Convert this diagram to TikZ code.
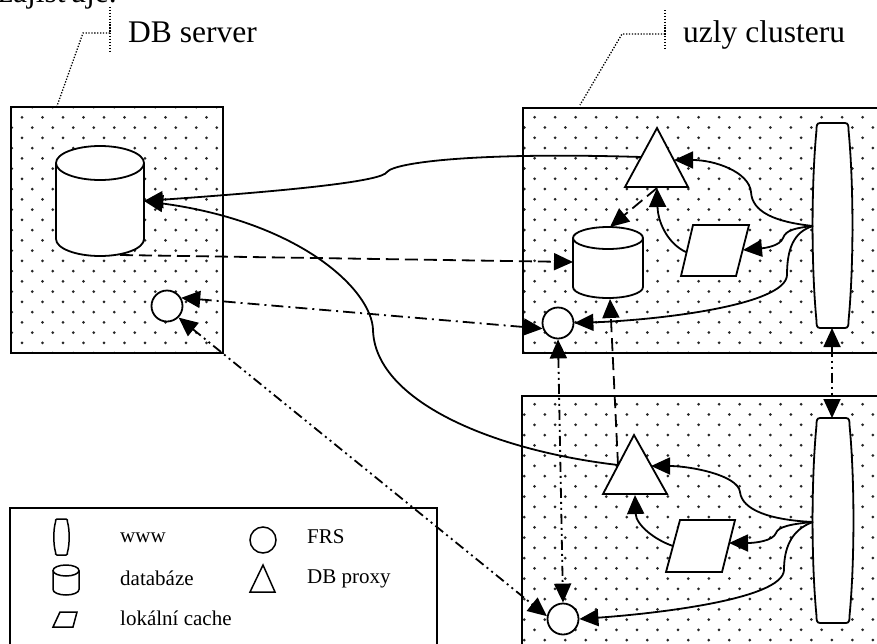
\documentclass[tikz,border=0pt]{standalone}
\usepackage{fontspec}
\setmainfont{Liberation Serif}
\usetikzlibrary{arrows.meta}
\newcommand\wwwshape[6][]{% l t r b k
  \filldraw[shp,#1] ({#2+2*#6},#3) -- ({#4-2*#6},#3)
   .. controls ({#4-#6},#3) and ({#4-#6},{#3+#6}) .. ({#4-#6},{#3+2*#6})
   .. controls ({#4+#6/2},{#3+0.3*(#5-#3)}) and ({#4+#6/2},{#3+0.7*(#5-#3)}) .. ({#4-#6},{#5-2*#6})
   .. controls ({#4-#6},{#5-#6}) and ({#4-#6},#5) .. ({#4-2*#6},#5)
   -- ({#2+2*#6},#5)
   .. controls ({#2+#6},#5) and ({#2+#6},{#5-#6}) .. ({#2+#6},{#5-2*#6})
   .. controls ({#2-#6/2},{#3+0.7*(#5-#3)}) and ({#2-#6/2},{#3+0.3*(#5-#3)}) .. ({#2+#6},{#3+2*#6})
   .. controls ({#2+#6},{#3+#6}) and ({#2+#6},#3) .. cycle;
}
\newcommand\dbcyl[6][]{% cx tc bc rx ry
  \fill[white] ({#2-#5},#3) rectangle ({#2+#5},#4);
  \fill[white] (#2,#4) ellipse [x radius=#5, y radius=#6];
  \filldraw[shp,#1] (#2,#3) ellipse [x radius=#5, y radius=#6];
  \draw[shp,fill=none,#1] ({#2-#5},#3) -- ({#2-#5},#4)
    .. controls ({#2-#5},{#4+0.5523*#6}) and ({#2-0.5523*#5},{#4+#6}) .. (#2,{#4+#6})
    .. controls ({#2+0.5523*#5},{#4+#6}) and ({#2+#5},{#4+0.5523*#6}) .. ({#2+#5},#4)
    -- ({#2+#5},#3);
}
\begin{document}
\begin{tikzpicture}[x=1pt,y=-1pt,
  box/.style={draw=black,line width=2pt},
  shp/.style={draw=black,fill=white,line width=1.8pt},
  conn/.style={line width=1.8pt},
  tip/.style={-{Triangle[length=19pt,width=17pt]}},
  tips/.style={{Triangle[length=19pt,width=17pt]}-{Triangle[length=19pt,width=17pt]}},
  ldash/.style={dash pattern=on 13pt off 6pt},
  dashdot/.style={dash pattern=on 12pt off 5pt on 2pt off 5pt},
  dashdotdot/.style={dash pattern=on 10pt off 4pt on 2pt off 4pt on 2pt off 4pt},
  callout/.style={line width=1.3pt,dash pattern=on 1.3pt off 1.6pt},
  frs/.style={circle,draw=black,fill=white,line width=1.8pt,minimum size=31pt,inner sep=0pt},
  lbl/.style={font=\fontsize{31.5}{36}\selectfont,inner sep=0pt,anchor=base west},
  leg/.style={font=\fontsize{21}{25}\selectfont,inner sep=0pt,anchor=base west},
  dotc/.style={fill=black!85}
]
\useasboundingbox (0,0) rectangle (877,643);
\fill[white] (0,0) rectangle (877,643);

% dotted fill of the three boxes
\begin{scope}
  \clip (11,107) rectangle (223,353) (523,108) rectangle (890,353) (522,396) rectangle (890,650);
  \foreach \j in {10,...,62} {
    \pgfmathsetmacro\off{mod(\j+1,2)*10.25}
    \foreach \i in {0,...,43} {
      \fill[dotc] ({1.5+20.5*\i+\off},{4.5+10.25*\j}) circle (1.5pt);
    }
  }
\end{scope}

% boxes
\draw[box] (11,107) rectangle (223,353);
\draw[box] (523,108) rectangle (890,353);
\draw[box] (522,396) rectangle (890,660);
\draw[box,fill=white] (10,508) rectangle (437,660);

% labels and callouts
\node[lbl] (frag) at (-1,2) {zajišťuje.};
\node[lbl] (dblabel) at (128,42) {DB server};
\node[lbl] (cllabel) at (683,42) {uzly clusteru};
\coordinate (dbv1) at (110,7); \coordinate (dbv2) at (110,52);
\coordinate (dbk) at (110,33); \coordinate (dbh) at (83,33); \coordinate (dbe) at (57,106);
\draw[callout] (dbv1) -- (dbv2);
\draw[callout] (dbk) -- (dbh) -- (dbe);
\coordinate (clv1) at (665,10); \coordinate (clv2) at (665,49);
\coordinate (clk) at (665,34); \coordinate (clh) at (622,34); \coordinate (cle) at (580,105);
\draw[callout] (clv1) -- (clv2);
\draw[callout] (clk) -- (clh) -- (cle);

% DB server contents
\dbcyl{100}{163}{239}{44}{17}
\coordinate (dbcylE) at (144,201);
\coordinate (dbcylB) at (120,255);
\node[frs] (frsDB) at (167,306) {};

% top cluster node
\draw[shp] (657,128) -- (625,187) -- (688,187) -- cycle;
\coordinate (t1L) at (641,157);
\coordinate (t1R) at (674,160);
\coordinate (t1B) at (657,188);
\dbcyl{608}{238}{287}{35}{11}
\coordinate (c1T) at (610,227);
\coordinate (c1W) at (573,262);
\coordinate (c1S) at (610,299);
\draw[shp] (693,225) -- (749,225) -- (736,276) -- (681,276) -- cycle;
\coordinate (p1R) at (743,250);
\coordinate (p1L) at (686,252);
\wwwshape{813}{123}{852}{328}{3.5}
\coordinate (w1L) at (813,226);
\coordinate (w1S) at (832,328);
\node[frs] (frs1) at (558,323) {};

% bottom cluster node
\draw[shp] (634,435) -- (603,494) -- (667,494) -- cycle;
\coordinate (t2L) at (618,465);
\coordinate (t2R) at (651,466);
\coordinate (t2B) at (635,495);
\draw[shp] (680,520) -- (735,520) -- (722,572) -- (666,572) -- cycle;
\coordinate (p2R) at (729,543);
\coordinate (p2L) at (673,546);
\wwwshape{813}{418}{853}{623}{3.5}
\coordinate (w2L) at (813,522);
\coordinate (w2N) at (832,418);
\node[frs] (frs2) at (563,619) {};

% connectors: top cluster
\draw[conn,tip] (w1L) .. controls (775,222) and (752,212) .. (751,192) .. controls (749,172) and (715,160) .. (t1R);
\draw[conn,tip] (w1L) .. controls (795,228) and (786,230) .. (783,238) .. controls (780,246) and (765,248) .. (p1R);
\draw[conn,tip] (w1L) .. controls (793,232) and (787,250) .. (787,275) .. controls (786,305) and (660,320) .. (frs1.east);
\draw[conn,tip] (p1L) .. controls (670,245) and (658,225) .. (t1B);
\draw[conn,ldash,tip] (t1B) -- (c1T);

% connectors: bottom cluster
\draw[conn,tip] (w2L) .. controls (770,520) and (742,510) .. (740,492) .. controls (738,475) and (690,466) .. (t2R);
\draw[conn,tip] (w2L) .. controls (790,524) and (778,527) .. (776,533) .. controls (773,541) and (755,543) .. (p2R);
\draw[conn,tip] (w2L) .. controls (790,530) and (784,550) .. (784,570) .. controls (783,600) and (650,614) .. (frs2.east);
\draw[conn,tip] (p2L) .. controls (655,540) and (636,525) .. (t2B);

% long connectors
\draw[conn,tip] (t1L) .. controls (480,152) and (395,162) .. (387,172) .. controls (382,181) and (300,190) .. (dbcylE);
\draw[conn,tip] (t2L) .. controls (490,450) and (375,400) .. (373,330) .. controls (372,290) and (300,222) .. (dbcylE);
\draw[conn,ldash,tip] (dbcylB) -- (c1W);
\draw[conn,ldash,tip] (t2L) -- (c1S);
\draw[conn,dashdot,tips] (frsDB.30) -- (frs1.200);
\draw[conn,dashdotdot,tips] (frsDB.-45) -- (frs2.170);
\draw[conn,dashdotdot,tips] (frs1.south) -- (frs2.north);
\draw[conn,dashdotdot,tips] (w1S) -- (w2N);

% legend
\wwwshape[line width=1.5pt]{54}{519}{69}{555}{1.5}
\dbcyl[line width=1.5pt]{66}{570.5}{589.5}{13}{5.5}
\draw[shp,line width=1.5pt] (60,612) -- (77,612) -- (73,627) -- (53,627) -- cycle;
\node[frs,line width=1.5pt,minimum size=26pt] (legfrs) at (263,540) {};
\draw[shp,line width=1.5pt] (263,565) -- (250,592) -- (275,592) -- cycle;
\node[leg] (legwww) at (120,542) {www};
\node[leg] (legdb) at (120,585) {databáze};
\node[leg] (legcache) at (120,625) {lokální cache};
\node[leg] (legfrst) at (307,543) {FRS};
\node[leg] (legproxy) at (307,583) {DB proxy};
\end{tikzpicture}
\end{document}
